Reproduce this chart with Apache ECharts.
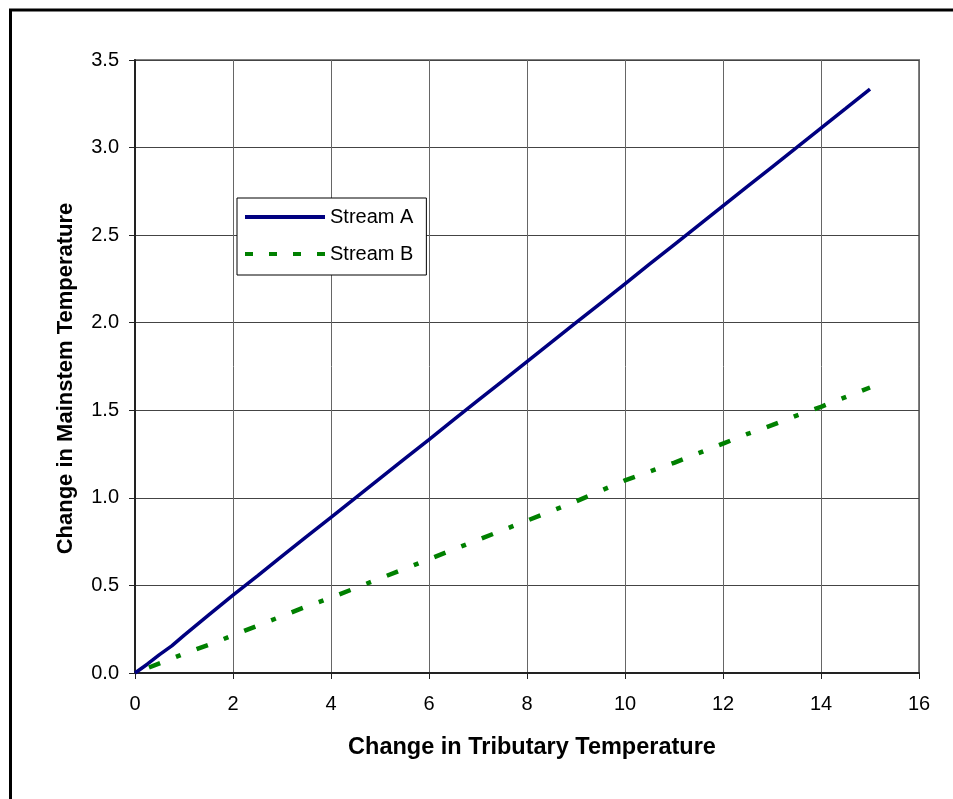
<!DOCTYPE html>
<html>
<head>
<meta charset="utf-8">
<script src="https://cdn.jsdelivr.net/npm/echarts@6/dist/echarts.min.js"></script>
<style>
html,body{margin:0;padding:0;background:#fff;}
#chart{width:953px;height:799px;}
</style>
</head>
<body>
<div id="chart"></div>
<script>
// Data
var xValuesA = [0, 0.25, 0.5, 0.75, 1, 1.5, 2, 2.5, 3, 3.5, 4, 4.5, 5, 5.5, 6, 6.5, 7, 7.5, 8, 8.5, 9, 9.5, 10, 10.5, 11, 11.5, 12, 12.5, 13, 13.5, 14, 14.5, 15];
var streamA = [0, 0.05, 0.105, 0.155, 0.215, 0.33, 0.445, 0.555, 0.667, 0.778, 0.889, 1.0, 1.111, 1.222, 1.333, 1.445, 1.556, 1.667, 1.778, 1.889, 2.0, 2.111, 2.222, 2.334, 2.445, 2.556, 2.667, 2.778, 2.889, 3.0, 3.111, 3.222, 3.334];
var xValuesB = [0, 0.5, 1, 1.5, 2, 2.5, 3, 3.5, 4, 4.5, 5, 5.5, 6, 6.5, 7, 7.5, 8, 8.5, 9, 9.5, 10, 10.5, 11, 11.5, 12, 12.5, 13, 13.5, 14, 14.5, 15];
var streamB = [0, 0.055, 0.11, 0.16, 0.215, 0.27, 0.325, 0.38, 0.43, 0.485, 0.54, 0.595, 0.65, 0.705, 0.76, 0.815, 0.87, 0.925, 0.98, 1.04, 1.1, 1.15, 1.2, 1.255, 1.31, 1.365, 1.415, 1.47, 1.52, 1.575, 1.63];
var seriesNames = ['Stream A', 'Stream B'];
var xAxisTitle = 'Change in Tributary Temperature';
var yAxisTitle = 'Change in Mainstem Temperature';

function pairs(xs, ys) { return xs.map(function (x, i) { return [x, ys[i]]; }); }

var FONT = '"Liberation Sans", Arial, sans-serif';
var chart = echarts.init(document.getElementById('chart'), null, {renderer: 'canvas'});
chart.setOption({
  animation: false,
  backgroundColor: '#fff',
  textStyle: {fontFamily: FONT},
  graphic: [
    {type: 'line', shape: {x1: 9, y1: 10, x2: 953, y2: 10}, style: {stroke: '#000', lineWidth: 3}, z: 100},
    {type: 'line', shape: {x1: 10.5, y1: 9, x2: 10.5, y2: 799}, style: {stroke: '#000', lineWidth: 3}, z: 100}
  ],
  grid: {
    left: 135, top: 60, right: 34, bottom: 126,
    show: true, borderColor: '#808080', borderWidth: 2, backgroundColor: '#fff'
  },
  legend: {
    orient: 'vertical',
    left: 237, top: 198,
    padding: [9, 13, 11, 8],
    itemGap: 17,
    itemWidth: 80, itemHeight: 4,
    itemTextGap: 6,
    borderColor: '#000', borderWidth: 1,
    backgroundColor: '#fff',
    textStyle: {fontFamily: FONT, fontSize: 20, color: '#000'},
    data: [
      {name: seriesNames[0], icon: 'rect', itemStyle: {color: '#000080'}},
      {name: seriesNames[1], icon: 'path://M0,0h8v4h-8zM24,0h8v4h-8zM48,0h8v4h-8zM72,0h8v4h-8z', itemStyle: {color: '#008000'}}
    ]
  },
  xAxis: {
    type: 'value', min: 0, max: 16, interval: 2,
    name: xAxisTitle, nameLocation: 'middle', nameGap: 63,
    nameTextStyle: {fontFamily: FONT, fontSize: 23.5, fontWeight: 'bold', color: '#000', padding: [0, 0, 0, 10]},
    axisLine: {onZero: false, lineStyle: {color: '#222', width: 2}},
    axisTick: {show: true, length: 6, lineStyle: {color: '#222', width: 1}},
    axisLabel: {fontFamily: FONT, fontSize: 20, color: '#000', margin: 21},
    splitLine: {show: true, lineStyle: {color: '#666', width: 1}}
  },
  yAxis: {
    type: 'value', min: 0, max: 3.5, interval: 0.5,
    name: yAxisTitle, nameLocation: 'middle', nameGap: 58,
    nameTextStyle: {fontFamily: FONT, fontSize: 22, fontWeight: 'bold', color: '#000', padding: [0, 24, 0, 0]},
    axisLine: {show: true, onZero: false, lineStyle: {color: '#222', width: 2}},
    axisTick: {show: true, length: 6, lineStyle: {color: '#222', width: 1}},
    axisLabel: {fontFamily: FONT, fontSize: 20, color: '#000', margin: 16,
      formatter: function (v) { return v.toFixed(1); }},
    splitLine: {show: true, lineStyle: {color: '#444', width: 1}}
  },
  series: [
    {
      name: seriesNames[0], type: 'line', data: pairs(xValuesA, streamA),
      symbol: 'none', smooth: false,
      lineStyle: {color: '#000080', width: 3.5},
      itemStyle: {color: '#000080'}
    },
    {
      name: seriesNames[1], type: 'line', data: pairs(xValuesB, streamB),
      symbol: 'none', smooth: false,
      lineStyle: {color: '#008000', width: 4.5, type: [12, 17, 5, 17], dashOffset: 36, cap: 'butt'},
      itemStyle: {color: '#008000'}
    }
  ]
});
</script>
</body>
</html>
